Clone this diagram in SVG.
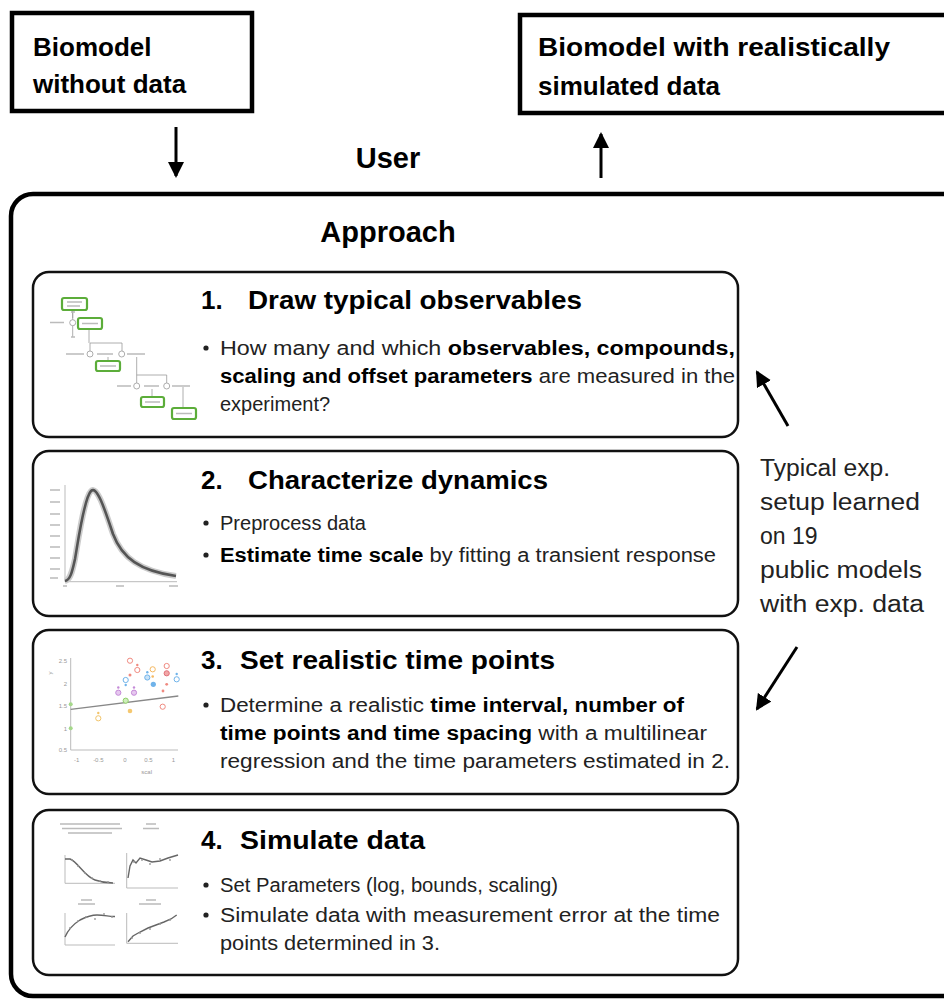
<svg xmlns="http://www.w3.org/2000/svg" width="944" height="1000" viewBox="0 0 944 1000">
<style>
.io{fill:#fff;stroke:#000;stroke-width:4.5}
.outer{fill:#fff;stroke:#000;stroke-width:4.5}
.step{fill:#fff;stroke:#111;stroke-width:2.5}
.lbl{font-family:"Liberation Sans",Arial,sans-serif;font-weight:bold;font-size:26px;fill:#000}
.hdr{font-family:"Liberation Sans",Arial,sans-serif;font-weight:bold;font-size:29px;fill:#000}
.ttl{font-family:"Liberation Sans",Arial,sans-serif;font-weight:bold;font-size:26px;fill:#000}
.txt{font-family:"Liberation Sans",Arial,sans-serif;font-size:20px;fill:#222}
.side{font-family:"Liberation Sans",Arial,sans-serif;font-size:23px;fill:#222}
.b{font-weight:bold;fill:#000}
.arr{stroke:#000;stroke-width:3;fill:none}
.gbox{fill:#fff;stroke:#5cad3a;stroke-width:2.2}
.gl{stroke:#999;stroke-width:0.8;fill:none}
.tb{stroke:#bbb;stroke-width:1.6}
.ax{stroke:#bbb;stroke-width:1;fill:none}
.tick{font-family:"Liberation Sans",Arial,sans-serif;font-size:6px;fill:#999}
</style>
<defs>
<marker id="ah2" markerWidth="16" markerHeight="16" refX="14" refY="8" orient="auto" markerUnits="userSpaceOnUse">
<path d="M0,0 L16,8 L0,16 z" fill="#000"/>
</marker>
</defs>

<g id="input">
<rect class="io" x="12" y="13" width="240" height="98"/>
<text class="lbl" x="33" y="56">Biomodel</text>
<text class="lbl" x="33" y="93">without data</text>
</g>

<g id="output">
<rect class="io" x="520" y="15" width="440" height="98"/>
<text class="lbl" x="538" y="56" textLength="352" lengthAdjust="spacingAndGlyphs">Biomodel  with realistically</text>
<text class="lbl" x="538" y="95">simulated data</text>
</g>

<g id="user">
<text class="hdr" x="388" y="168" text-anchor="middle">User</text>
</g>

<g id="approach">
<rect class="outer" x="11" y="194" width="960" height="802" rx="22"/>
<text class="hdr" x="388" y="242" text-anchor="middle">Approach</text>
</g>

<g id="step1">
<rect class="step" x="33" y="272" width="705" height="165" rx="16"/>
<text class="ttl" x="201" y="309">1.</text>
<text class="ttl" x="248" y="309" textLength="334" lengthAdjust="spacingAndGlyphs">Draw typical observables</text>
<circle cx="206" cy="348" r="2.6" fill="#222"/>
<text class="txt" x="220" y="355" textLength="515" lengthAdjust="spacingAndGlyphs">How many and which <tspan class="b">observables, compounds,</tspan></text>
<text class="txt" x="220" y="383" textLength="515" lengthAdjust="spacingAndGlyphs"><tspan class="b">scaling and offset parameters</tspan> are measured in the</text>
<text class="txt" x="220" y="411">experiment?</text>
<g id="thumb1">
<path class="gl" d="M72.7,310 V337 M89,329 V343 M90,343 H122 V351 M90,343 V351 M108,357 V361 M136.7,357 V378 M136.7,375 H166.7 V383 M136.7,378 V383 M152,389 V397 M183,387 V408 M72.7,310 V318"/>
<circle cx="72.7" cy="322.7" r="3" fill="#fff" stroke="#999" stroke-width="0.8"/>
<circle cx="90" cy="354" r="3" fill="#fff" stroke="#999" stroke-width="0.8"/>
<circle cx="121.7" cy="354" r="3" fill="#fff" stroke="#999" stroke-width="0.8"/>
<circle cx="136.7" cy="386" r="3" fill="#fff" stroke="#999" stroke-width="0.8"/>
<circle cx="166.7" cy="386" r="3" fill="#fff" stroke="#999" stroke-width="0.8"/>
<path class="tb" d="M50,322.5 H64 M66,354 H84 M97,354 H113 M127,354 H145 M117,386 H131 M144,386 H159 M172,386 H190 M71,337 H75 M71,312 H75"/>
<rect class="gbox" x="62" y="298" width="25" height="12" rx="2"/>
<rect class="gbox" x="78" y="318" width="24" height="11" rx="2"/>
<rect class="gbox" x="96" y="361" width="24" height="10" rx="2"/>
<rect class="gbox" x="141" y="397" width="23" height="10" rx="2"/>
<rect class="gbox" x="172" y="408" width="24" height="11" rx="2"/>
<path class="tb" d="M67,302 H82 M67,306 H80 M82,323.5 H98 M100,366 H116 M145,402 H160 M176,413.5 H192"/>
</g>
</g>

<g id="step2">
<rect class="step" x="33" y="451" width="705" height="165" rx="16"/>
<text class="ttl" x="201" y="489">2.</text>
<text class="ttl" x="248" y="489" textLength="300" lengthAdjust="spacingAndGlyphs">Characterize dynamics</text>
<circle cx="206" cy="523" r="2.6" fill="#222"/>
<text class="txt" x="220" y="530" textLength="146" lengthAdjust="spacingAndGlyphs">Preprocess data</text>
<circle cx="206" cy="555" r="2.6" fill="#222"/>
<text class="txt" x="220" y="562" textLength="496" lengthAdjust="spacingAndGlyphs"><tspan class="b">Estimate time scale</tspan> by fitting a transient response</text>
<g id="thumb2" transform="translate(0,180)">
<path class="ax" d="M65,305 V401.7 H177"/>
<path class="tb" d="M50,310 H60 M50,322 H60 M50,334 H60 M50,345 H60 M50,356 H60 M50,367 H60 M50,378 H60 M50,389 H60 M50,398 H58 M63,406 H67 M116,406 H124 M169,406 H178"/>
<path d="M65,401 C70,400 72,393 75,379 C78,362 84,318 91,311 C97,305 105,330 113,354 C122,378 140,391 176,396" fill="none" stroke="#ccc" stroke-width="6"/>
<path d="M65,401 C70,400 72,393 75,379 C78,362 84,318 91,311 C97,305 105,330 113,354 C122,378 140,391 176,396" fill="none" stroke="#555" stroke-width="2.6"/>
</g>
</g>

<g id="step3">
<rect class="step" x="33" y="630" width="705" height="164" rx="16"/>
<text class="ttl" x="201" y="669">3.</text>
<text class="ttl" x="240" y="669" textLength="315" lengthAdjust="spacingAndGlyphs">Set realistic time points</text>
<circle cx="206" cy="705" r="2.6" fill="#222"/>
<text class="txt" x="220" y="712" textLength="464" lengthAdjust="spacingAndGlyphs">Determine a realistic <tspan class="b">time interval, number of</tspan></text>
<text class="txt" x="220" y="740" textLength="487" lengthAdjust="spacingAndGlyphs"><tspan class="b">time points and time spacing</tspan> with a multilinear</text>
<text class="txt" x="220" y="768" textLength="510" lengthAdjust="spacingAndGlyphs">regression and the time parameters estimated in 2.</text>
<g id="thumb3">
<path class="ax" d="M70.7,658 V750 H178"/>
<text class="tick" x="67" y="663" text-anchor="end">2.5</text>
<text class="tick" x="67" y="685.5" text-anchor="end">2</text>
<text class="tick" x="67" y="708" text-anchor="end">1.5</text>
<text class="tick" x="67" y="730.5" text-anchor="end">1</text>
<text class="tick" x="67" y="752" text-anchor="end">0.5</text>
<text class="tick" x="76.7" y="762" text-anchor="middle">-1</text>
<text class="tick" x="98.3" y="762" text-anchor="middle">-0.5</text>
<text class="tick" x="125" y="762" text-anchor="middle">0</text>
<text class="tick" x="148.3" y="762" text-anchor="middle">0.5</text>
<text class="tick" x="173.3" y="762" text-anchor="middle">1</text>
<text class="tick" x="146.7" y="774" text-anchor="middle">scal</text>
<text class="tick" x="52" y="673" text-anchor="middle" transform="rotate(-90 52 673)">y</text>
<line x1="70.7" y1="709.3" x2="178.3" y2="696" stroke="#888" stroke-width="1.3"/>
<g fill="none" stroke-width="1">
<circle cx="70.7" cy="704.3" r="2" fill="#a5d88a" stroke="none"/>
<circle cx="70.7" cy="728.3" r="2" fill="#a5d88a" stroke="none"/>
<circle cx="125.7" cy="700.7" r="2.6" stroke="#8fcf6a" fill="#cfeebb"/>
<circle cx="98.3" cy="718.3" r="2.6" stroke="#f2c46a"/>
<circle cx="98.3" cy="713" r="1.2" fill="#f2c46a" stroke="none"/>
<circle cx="130" cy="711" r="2.3" fill="#f5c870" stroke="none"/>
<circle cx="130" cy="660.7" r="2.6" stroke="#f08a80"/>
<circle cx="137.3" cy="670" r="2.6" stroke="#f08a80"/>
<circle cx="137.3" cy="665" r="1.2" fill="#f08a80" stroke="none"/>
<circle cx="130" cy="675" r="1.5" fill="#f08a80" stroke="none"/>
<circle cx="152.7" cy="669.3" r="2.6" stroke="#f5b860"/>
<circle cx="152.7" cy="676.5" r="1.3" fill="#f5b860" stroke="none"/>
<circle cx="118.3" cy="692.7" r="2.6" stroke="#c58ad8" fill="#e6c8ef"/>
<circle cx="118.3" cy="687.5" r="1.2" fill="#c58ad8" stroke="none"/>
<circle cx="134" cy="692.7" r="2.6" stroke="#c58ad8" fill="#e6c8ef"/>
<circle cx="134" cy="687.5" r="1.2" fill="#c58ad8" stroke="none"/>
<circle cx="125.7" cy="680" r="2.6" stroke="#6fb3ea"/>
<circle cx="125.7" cy="685" r="1.2" fill="#6fb3ea" stroke="none"/>
<circle cx="147.3" cy="677.5" r="2.6" stroke="#6fb3ea" fill="#c9e3f8"/>
<circle cx="147.3" cy="672.3" r="1.2" fill="#6fb3ea" stroke="none"/>
<circle cx="153.3" cy="684.3" r="2.6" fill="#6fb3ea" stroke="none"/>
<circle cx="176.7" cy="679.3" r="2.6" stroke="#6fb3ea"/>
<circle cx="176.7" cy="674" r="1.2" fill="#6fb3ea" stroke="none"/>
<circle cx="166.7" cy="666" r="2.6" stroke="#f08a80"/>
<circle cx="166.7" cy="673.3" r="2.6" stroke="#e0707a" fill="#f2a7a7"/>
<circle cx="166.7" cy="684.3" r="1.4" fill="#f08a80" stroke="none"/>
<circle cx="162.7" cy="706.7" r="2.6" stroke="#f08a80"/>
<circle cx="163" cy="691" r="1.4" fill="#f08a80" stroke="none"/>
</g>
</g>
</g>

<g id="step4">
<rect class="step" x="33" y="810" width="705" height="165" rx="16"/>
<text class="ttl" x="201" y="849">4.</text>
<text class="ttl" x="240" y="849" textLength="185" lengthAdjust="spacingAndGlyphs">Simulate data</text>
<circle cx="206" cy="885" r="2.6" fill="#222"/>
<text class="txt" x="220" y="892" textLength="338" lengthAdjust="spacingAndGlyphs">Set Parameters (log, bounds, scaling)</text>
<circle cx="206" cy="915" r="2.6" fill="#222"/>
<text class="txt" x="220" y="922" textLength="500" lengthAdjust="spacingAndGlyphs">Simulate data with measurement error at the time</text>
<text class="txt" x="220" y="950" textLength="220" lengthAdjust="spacingAndGlyphs">points determined in 3.</text>
<g id="thumb4">
<path class="tb" d="M60,824 H120 M62,828.5 H122 M68,833 H112 M146,824 H156 M143,828.5 H159 M81,900 H92 M78,904 H95 M146,900 H156 M139,904 H161"/>
<path class="ax" d="M65,855 V883.3 H115 M126.7,853 V888 H178 M65,913 V945 H115 M126.7,913 V943.3 H178"/>
<path d="M65,859 H70 C78,862 84,876 95,880 C102,882.5 108,883 113,883" fill="none" stroke="#666" stroke-width="1.4"/>
<path d="M128,878 L130,866 L133,860 L136,863 L140,858 L146,860 L152,862 L160,861 L168,858 L178,855" fill="none" stroke="#666" stroke-width="1.4"/>
<path d="M65,937 C68,930 72,925 80,920 C88,916 92,915 97,915 C105,915 110,917 115,916.5" fill="none" stroke="#666" stroke-width="1.4"/>
<path d="M128,941.7 L133,936 L140,932 L148,928 L156,925 L164,922 L171,919 L176.7,915" fill="none" stroke="#666" stroke-width="1.4"/>
<g fill="#999">
<circle cx="72" cy="860" r="0.9"/><circle cx="78" cy="866" r="0.9"/><circle cx="85" cy="873" r="0.9"/><circle cx="92" cy="878" r="0.9"/><circle cx="100" cy="881" r="0.9"/><circle cx="108" cy="882" r="0.9"/>
<circle cx="134" cy="862" r="0.9"/><circle cx="142" cy="860" r="0.9"/><circle cx="150" cy="864" r="0.9"/><circle cx="160" cy="859" r="0.9"/><circle cx="170" cy="860" r="0.9"/>
<circle cx="70" cy="928" r="0.9"/><circle cx="78" cy="921" r="0.9"/><circle cx="86" cy="917" r="0.9"/><circle cx="95" cy="919" r="0.9"/><circle cx="104" cy="914" r="0.9"/><circle cx="112" cy="917" r="0.9"/>
<circle cx="132" cy="938" r="0.9"/><circle cx="140" cy="933" r="0.9"/><circle cx="150" cy="929" r="0.9"/><circle cx="160" cy="924" r="0.9"/><circle cx="170" cy="920" r="0.9"/>
</g>
</g>
</g>

<g id="note">
<text class="side" x="760" y="476" textLength="130" lengthAdjust="spacingAndGlyphs">Typical exp.</text>
<text class="side" x="760" y="510" textLength="160" lengthAdjust="spacingAndGlyphs">setup learned</text>
<text class="side" x="760" y="544">on 19</text>
<text class="side" x="760" y="578" textLength="162" lengthAdjust="spacingAndGlyphs">public models</text>
<text class="side" x="760" y="612" textLength="164" lengthAdjust="spacingAndGlyphs">with exp. data</text>
</g>

<g id="connectors">
<line class="arr" x1="176" y1="127" x2="176" y2="176" marker-end="url(#ah2)"/>
<line class="arr" x1="601" y1="178" x2="601" y2="134" marker-end="url(#ah2)"/>
<line class="arr" x1="788" y1="426" x2="757" y2="372" marker-end="url(#ah2)"/>
<line class="arr" x1="797" y1="647" x2="757" y2="709" marker-end="url(#ah2)"/>
</g>
</svg>
